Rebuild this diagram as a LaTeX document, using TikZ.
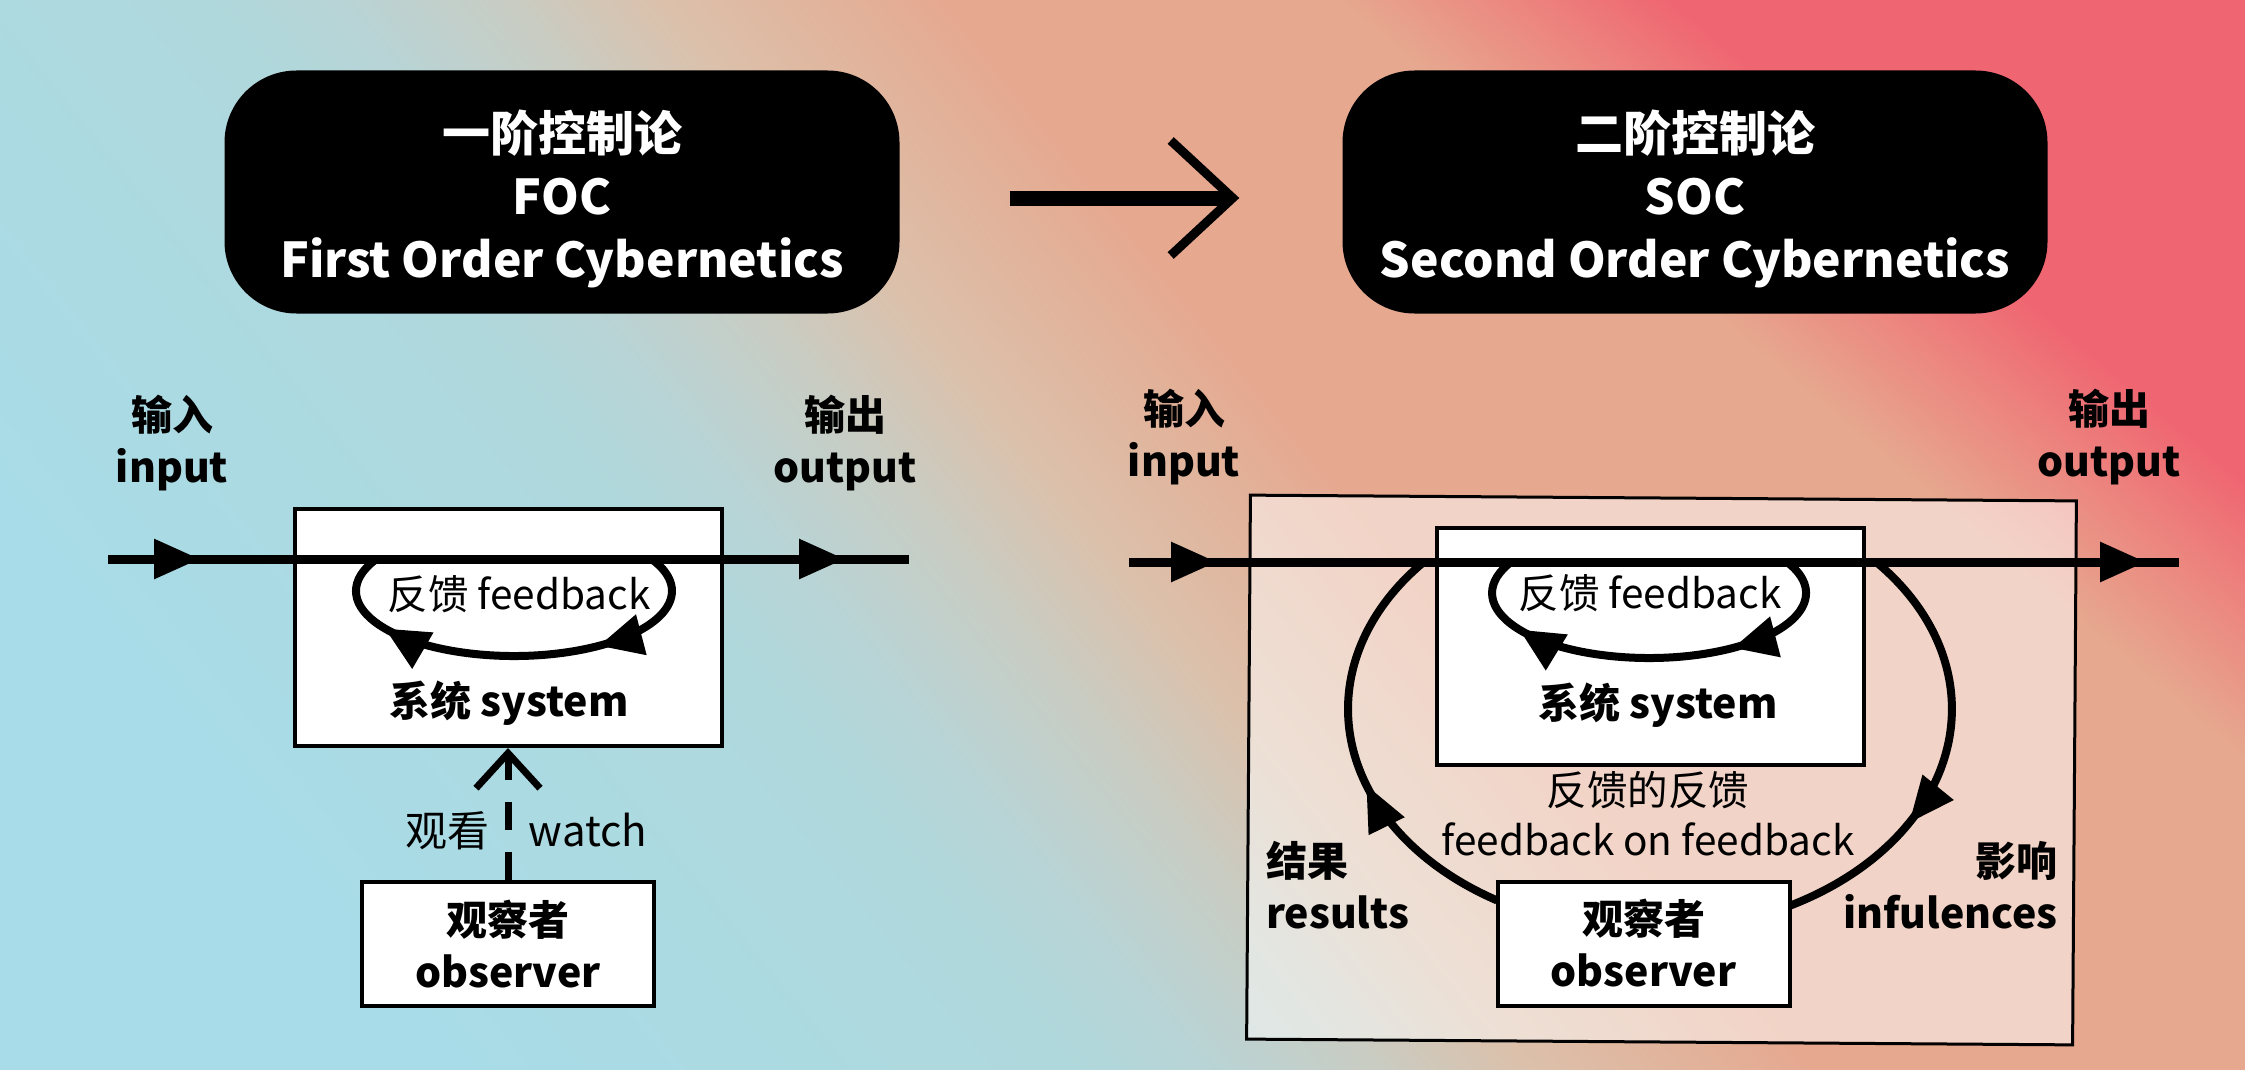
\documentclass[tikz,border=0pt]{standalone}
\usepackage{fontspec}
\setmainfont{Noto Sans CJK SC}
\usetikzlibrary{arrows.meta,decorations.markings}
\definecolor{bgA}{HTML}{A8DCE8}
\definecolor{bgB}{HTML}{AFD8DC}
\definecolor{bgC}{HTML}{B8D4D6}
\definecolor{bgD}{HTML}{C9CCC2}
\definecolor{bgG}{HTML}{DCC0AA}
\definecolor{bgE}{HTML}{E6A88F}
\definecolor{bgMid}{HTML}{EC867F}
\definecolor{bgRed}{HTML}{EF6571}
% the path's extent along the shading axis maps to 25bp..75bp
\pgfdeclarehorizontalshading{bgshade}{100bp}{color(0bp)=(bgA); color(25bp)=(bgA); color(39bp)=(bgB); color(42bp)=(bgC); color(46bp)=(bgD); color(49.5bp)=(bgG); color(56bp)=(bgE); color(100bp)=(bgE)}
\pgfdeclarehorizontalshading{redshade}{100bp}{color(0bp)=(bgE); color(51.5bp)=(bgE); color(58bp)=(bgMid); color(64bp)=(bgRed); color(100bp)=(bgRed)}
\begin{document}
\begin{tikzpicture}[x=1pt,y=1pt]
\tikzset{
  bigtri/.tip={Triangle[length=46pt,width=38pt]},
  smalltri/.tip={Triangle[length=44pt,width=40pt]},
  titlebox/.style={fill=black,text=white,rounded corners=72pt,minimum width=#1,minimum height=243pt,align=center,inner sep=0pt,font=\bfseries\fontsize{48}{63}\selectfont},
  sysbox/.style={draw=black,line width=4pt,fill=white,minimum width=427pt,minimum height=237pt,inner sep=0pt},
  obsbox/.style={draw=black,line width=4pt,fill=white,minimum width=292pt,minimum height=124pt,align=center,inner sep=0pt,font=\bfseries\fontsize{41}{52}\selectfont},
  boldlbl/.style={inner sep=0pt,font=\bfseries\fontsize{41}{52}\selectfont},
  plainlbl/.style={inner sep=0pt,font=\fontsize{40.5}{50}\selectfont},
  watchlbl/.style={inner sep=0pt,font=\fontsize{42}{50}\selectfont},
  mainline/.style={line width=9pt},
  loopline/.style={line width=8pt},
  twomarks/.style n args={3}{postaction={decorate},decoration={markings,mark=at position #1 with {\arrow{#3}},mark=at position #2 with {\arrow{#3}}}},
  onemark/.style n args={2}{postaction={decorate},decoration={markings,mark=at position #1 with {\arrow{#2}}}},
  titlearrow/.style={line width=15pt,-{Straight Barb[length=62pt,width=115pt,line width=9pt]}},
  watcharrow/.style={line width=7pt,dash pattern=on 28pt off 22pt,-{Straight Barb[length=35pt,width=64pt]}},
  socframe/.style={draw=black,line width=3pt,fill=white,fill opacity=0.5,minimum width=826pt,minimum height=544pt,rotate=-0.4,inner sep=0pt}
}
\useasboundingbox (0,0) rectangle (2245,-1070);
\begin{scope}
  \clip (0,0) rectangle (2245,-1070);
  \shade[shading=bgshade,shading angle=39] (0,0) rectangle (2245,-1070);
  \shade[shading=redshade,shading angle=50] (1300,0) -- (2245,0) -- (2245,-794) -- cycle;
\end{scope}

% titles
\node[titlebox=675pt] (foc) at (562,-192) {\rule{0pt}{56pt}一阶控制论\\FOC\\First Order Cybernetics};
\node[titlebox=705pt] (soc) at (1695,-192) {\rule{0pt}{56pt}二阶控制论\\SOC\\Second Order Cybernetics};
\draw[titlearrow,shorten <=110pt,shorten >=103pt] ([yshift=-6pt]foc.east) -- ([yshift=-6pt]soc.west);

% first order
\node[boldlbl,align=center] (in1) at (172,-443) {输入\\input};
\node[boldlbl,align=center] (out1) at (845,-443) {输出\\output};
\node[sysbox] (sys1) at (508.5,-627.5) {};
\coordinate (l1a) at (108,-559);
\coordinate (l1b) at (909,-559);
\draw[mainline,twomarks={92pt}{737pt}{bigtri}] (l1a) -- (l1b);
\coordinate (fb1s) at (652.8,-560);
\draw[loopline,twomarks={135pt}{354pt}{smalltri}] (fb1s) arc[start angle=28.5,end angle=-208.5,x radius=158,y radius=65];
\node[plainlbl] (fb1) at (519,-594) {反馈 feedback};
\node[boldlbl] (st1) at (509,-703) {系统 system};
\node[obsbox] (obs1) at (508,-944) {观察者\\observer};
\draw[watcharrow] (obs1.north) -- (obs1.north |- sys1.south);
\node[watchlbl,anchor=base] (w1) at (447,-846) {观看};
\node[watchlbl,anchor=base] (w2) at (588,-846) {watch};

% second order
\node[socframe] (frame) at (1661.5,-770) {};
\node[boldlbl,align=center] (in2) at (1184,-437) {输入\\input};
\node[boldlbl,align=center] (out2) at (2109,-437) {输出\\output};
\node[sysbox] (sys2) at (1650,-646.5) {};
\coordinate (l2a) at (1129,-562);
\coordinate (l2b) at (2179,-562);
\draw[mainline,twomarks={88pt}{1017pt}{bigtri}] (l2a) -- (l2b);
\coordinate (fb2s) at (1787,-562);
\draw[loopline,twomarks={135pt}{354pt}{smalltri}] (fb2s) arc[start angle=28.5,end angle=-208.5,x radius=157,y radius=65];
\node[plainlbl] (fb2) at (1650,-593) {反馈 feedback};
\node[boldlbl] (st2) at (1658,-705) {系统 system};
\coordinate (resS) at (1497,-900.4);
\draw[loopline,onemark={178pt}{bigtri}] (resS) arc[start angle=239.56,end angle=138.53,x radius=302,y radius=222];
\coordinate (infS) at (1876.2,-562);
\draw[loopline,onemark={295pt}{bigtri}] (infS) arc[start angle=41.47,end angle=-62.38,x radius=302,y radius=222];
\node[obsbox] (obs2) at (1643.5,-943.5) {观察者\\observer};
\node[plainlbl,align=center] (fof) at (1648,-813.5) {反馈的反馈\\feedback on feedback};
\node[boldlbl,align=left,anchor=west] (res) at (1266,-885.5) {结果\\results};
\node[boldlbl,align=right,anchor=east] (inf) at (2058,-885.5) {影响\\infulences};
\end{tikzpicture}
\end{document}
